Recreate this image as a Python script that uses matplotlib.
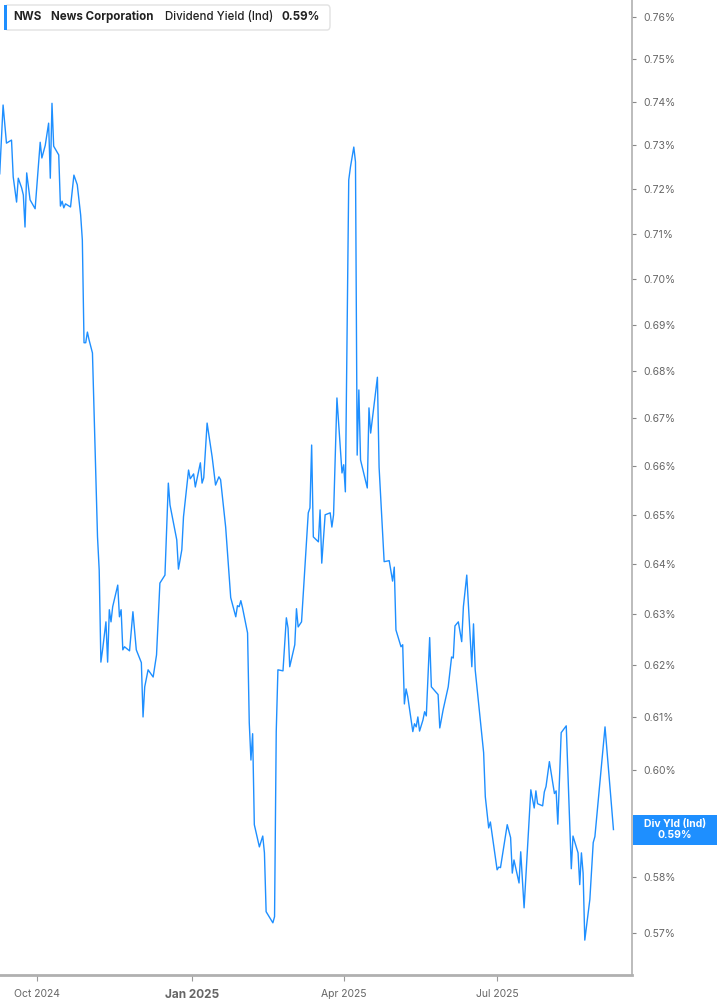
import pandas as pd
import matplotlib
matplotlib.use('Agg')
import matplotlib.pyplot as plt
from matplotlib.patches import FancyBboxPatch, Rectangle
from matplotlib.ticker import FixedLocator, FuncFormatter, NullLocator

plt.rcParams['font.family'] = ['Inter', 'DejaVu Sans']

# Dividend yield (%), one point per visible vertex
dates = [
    '2024-09-09', '2024-09-11', '2024-09-13', '2024-09-16', '2024-09-17', '2024-09-19',
    '2024-09-20', '2024-09-22', '2024-09-23', '2024-09-24', '2024-09-25', '2024-09-27',
    '2024-09-30', '2024-10-03', '2024-10-04', '2024-10-06', '2024-10-08', '2024-10-09',
    '2024-10-10', '2024-10-11', '2024-10-14', '2024-10-15', '2024-10-16', '2024-10-17',
    '2024-10-18', '2024-10-21', '2024-10-23', '2024-10-25', '2024-10-27', '2024-10-28',
    '2024-10-29', '2024-10-30', '2024-10-31', '2024-11-01', '2024-11-03', '2024-11-06',
    '2024-11-07', '2024-11-08', '2024-11-09', '2024-11-11', '2024-11-12', '2024-11-13',
    '2024-11-14', '2024-11-15', '2024-11-18', '2024-11-19', '2024-11-20', '2024-11-21',
    '2024-11-22', '2024-11-25', '2024-11-27', '2024-11-29', '2024-12-02', '2024-12-03',
    '2024-12-04', '2024-12-06', '2024-12-09', '2024-12-11', '2024-12-13', '2024-12-16',
    '2024-12-18', '2024-12-19', '2024-12-23', '2024-12-24', '2024-12-26', '2024-12-27',
    '2024-12-30', '2024-12-31', '2025-01-02', '2025-01-03', '2025-01-06', '2025-01-07',
    '2025-01-08', '2025-01-10', '2025-01-13', '2025-01-15', '2025-01-17', '2025-01-18',
    '2025-01-21', '2025-01-24', '2025-01-27', '2025-01-28', '2025-01-29', '2025-01-30',
    '2025-01-31', '2025-02-03', '2025-02-04', '2025-02-05', '2025-02-06', '2025-02-07',
    '2025-02-10', '2025-02-12', '2025-02-13', '2025-02-14', '2025-02-18', '2025-02-19',
    '2025-02-20', '2025-02-21', '2025-02-24', '2025-02-26', '2025-02-27', '2025-02-28',
    '2025-03-03', '2025-03-04', '2025-03-05', '2025-03-07', '2025-03-11', '2025-03-12',
    '2025-03-13', '2025-03-14', '2025-03-17', '2025-03-18', '2025-03-19', '2025-03-21',
    '2025-03-24', '2025-03-25', '2025-03-26', '2025-03-28', '2025-03-31', '2025-04-01',
    '2025-04-02', '2025-04-04', '2025-04-05', '2025-04-07', '2025-04-08', '2025-04-09',
    '2025-04-10', '2025-04-11', '2025-04-15', '2025-04-16', '2025-04-17', '2025-04-21',
    '2025-04-22', '2025-04-25', '2025-04-28', '2025-04-30', '2025-05-01', '2025-05-02',
    '2025-05-05', '2025-05-06', '2025-05-07', '2025-05-08', '2025-05-09', '2025-05-12',
    '2025-05-13', '2025-05-14', '2025-05-15', '2025-05-16', '2025-05-18', '2025-05-19',
    '2025-05-20', '2025-05-22', '2025-05-23', '2025-05-27', '2025-05-28', '2025-05-30',
    '2025-06-02', '2025-06-04', '2025-06-05', '2025-06-06', '2025-06-08', '2025-06-10',
    '2025-06-11', '2025-06-13', '2025-06-16', '2025-06-17', '2025-06-18', '2025-06-23',
    '2025-06-24', '2025-06-26', '2025-06-27', '2025-07-01', '2025-07-02', '2025-07-03',
    '2025-07-07', '2025-07-09', '2025-07-10', '2025-07-11', '2025-07-14', '2025-07-15',
    '2025-07-17', '2025-07-21', '2025-07-23', '2025-07-24', '2025-07-25', '2025-07-28',
    '2025-07-29', '2025-07-30', '2025-08-01', '2025-08-04', '2025-08-05', '2025-08-06',
    '2025-08-08', '2025-08-11', '2025-08-14', '2025-08-15', '2025-08-18', '2025-08-19',
    '2025-08-20', '2025-08-21', '2025-08-22', '2025-08-25', '2025-08-27', '2025-08-28',
    '2025-09-03', '2025-09-08',
]
yields = [
    0.7235, 0.7393, 0.7305, 0.7312, 0.7228, 0.7171,
    0.7225, 0.7203, 0.7187, 0.7115, 0.7237, 0.7176,
    0.7156, 0.7307, 0.7271, 0.7300, 0.7351, 0.7225,
    0.7397, 0.7298, 0.7278, 0.7162, 0.7173, 0.7158,
    0.7167, 0.7160, 0.7232, 0.7210, 0.7142, 0.7086,
    0.6861, 0.6861, 0.6884, 0.6867, 0.6839, 0.6455,
    0.6388, 0.6206, 0.6230, 0.6285, 0.6206, 0.6309,
    0.6285, 0.6315, 0.6358, 0.6295, 0.6309, 0.6230,
    0.6236, 0.6228, 0.6305, 0.6230, 0.6205, 0.6100,
    0.6158, 0.6191, 0.6177, 0.6220, 0.6362, 0.6378,
    0.6565, 0.6520, 0.6449, 0.6390, 0.6429, 0.6496,
    0.6592, 0.6574, 0.6584, 0.6557, 0.6607, 0.6565,
    0.6576, 0.6690, 0.6619, 0.6561, 0.6578, 0.6572,
    0.6475, 0.6333, 0.6295, 0.6317, 0.6315, 0.6327,
    0.6313, 0.6263, 0.6089, 0.6018, 0.6068, 0.5897,
    0.5856, 0.5876, 0.5845, 0.5738, 0.5718, 0.5729,
    0.6072, 0.6191, 0.6189, 0.6293, 0.6273, 0.6197,
    0.6240, 0.6311, 0.6275, 0.6285, 0.6504, 0.6514,
    0.6644, 0.6455, 0.6445, 0.6510, 0.6402, 0.6500,
    0.6504, 0.6475, 0.6500, 0.6743, 0.6586, 0.6603,
    0.6547, 0.7221, 0.7250, 0.7296, 0.7262, 0.6623,
    0.6760, 0.6613, 0.6555, 0.6722, 0.6669, 0.6787,
    0.6598, 0.6405, 0.6407, 0.6366, 0.6394, 0.6269,
    0.6236, 0.6240, 0.6125, 0.6154, 0.6139, 0.6072,
    0.6087, 0.6081, 0.6100, 0.6073, 0.6094, 0.6110,
    0.6102, 0.6254, 0.6158, 0.6143, 0.6079, 0.6114,
    0.6158, 0.6216, 0.6214, 0.6277, 0.6285, 0.6246,
    0.6315, 0.6378, 0.6197, 0.6281, 0.6191, 0.6032,
    0.5949, 0.5891, 0.5902, 0.5814, 0.5819, 0.5818,
    0.5897, 0.5873, 0.5808, 0.5832, 0.5790, 0.5847,
    0.5745, 0.5962, 0.5928, 0.5960, 0.5936, 0.5932,
    0.5958, 0.5968, 0.6015, 0.5955, 0.5960, 0.5898,
    0.6070, 0.6083, 0.5816, 0.5876, 0.5845, 0.5787,
    0.5845, 0.5808, 0.5687, 0.5760, 0.5864, 0.5875,
    0.6081, 0.5888,
]

ticker = 'NWS'
company = 'News Corporation'
metric = 'Dividend Yield (Ind)'
last_text = '0.59%'
badge_text = 'Div Yld (Ind)\n0.59%'

# 0.59% sits under the last-value badge, so it is not labelled
y_ticks = [0.57, 0.58, 0.60, 0.61, 0.62, 0.63, 0.64, 0.65, 0.66,
           0.67, 0.68, 0.69, 0.70, 0.71, 0.72, 0.73, 0.74, 0.75, 0.76]
x_ticks = ['2024-10-01', '2025-01-01', '2025-04-01', '2025-07-01']
x_labels = ['Oct 2024', 'Jan 2025', 'Apr 2025', 'Jul 2025']

blue = '#1e8fff'
W, H = 717, 1005

fig = plt.figure(figsize=(W / 100, H / 100), dpi=100)
ax = fig.add_axes([0, 30 / H, 632 / W, 975 / H])

ax.plot(pd.to_datetime(dates), yields, color=blue, lw=1.0)

ax.set_yscale('log')
ax.set_ylim(0.5625, 0.7641)
ax.set_xlim(pd.Timestamp('2024-09-09 04:00'), pd.Timestamp('2025-09-19'))

for s in ['left', 'top']:
    ax.spines[s].set_visible(False)
ax.spines['bottom'].set_color('#b0b0b0')
ax.spines['bottom'].set_linewidth(2)
ax.spines['right'].set_color('#b0b0b0')
ax.spines['right'].set_linewidth(1.2)

# y axis on the right, plain percent labels
ax.yaxis.tick_right()
ax.yaxis.set_major_locator(FixedLocator(y_ticks))
ax.yaxis.set_minor_locator(NullLocator())
ax.yaxis.set_major_formatter(FuncFormatter(lambda v, p: f'{v:.2f}%'))
ax.tick_params(axis='y', length=3, color='#888888', labelcolor='#666666',
               labelsize=7.5, pad=5)

ax.set_xticks(pd.to_datetime(x_ticks))
ax.set_xticklabels(x_labels)
ax.tick_params(axis='x', length=4, color='#999999', labelcolor='#666666',
               labelsize=7.5, pad=6)
for lab in ax.get_xticklabels():
    if lab.get_text().startswith('Jan'):
        lab.set_fontweight('bold')
        lab.set_fontsize(8.5)

# header box
fig.patches.append(FancyBboxPatch((5 / W, 1 - 30 / H), 325 / W, 25 / H,
                                  boxstyle='round,pad=0,rounding_size=0.004',
                                  transform=fig.transFigure, facecolor='white',
                                  edgecolor='#e2e2e2', lw=1))
fig.patches.append(Rectangle((4 / W, 1 - 30 / H), 3 / W, 25 / H,
                             transform=fig.transFigure, facecolor=blue,
                             edgecolor='none'))
ty = 1 - 17 / H
fig.text(13 / W, ty, ticker, fontsize=8.3, fontweight='bold', color='#222222', va='center')
fig.text(51 / W, ty, company, fontsize=8.3, fontweight='bold', color='#222222', va='center')
fig.text(165 / W, ty, metric, fontsize=8.3, fontweight='medium', color='#222222', va='center')
fig.text(282 / W, ty, last_text, fontsize=8.3, fontweight='bold', color='#222222', va='center')

# last value badge on the right axis
fig.canvas.draw()
yc = ax.transData.transform((ax.get_xlim()[0], yields[-1]))[1] / H
fig.patches.append(Rectangle((633 / W, yc - 15 / H), 84 / W, 30 / H,
                             transform=fig.transFigure, facecolor=blue,
                             edgecolor='none', zorder=5))
fig.text(675 / W, yc, badge_text, ha='center', va='center', fontsize=7.5,
         fontweight='bold', color='white', linespacing=1.1, zorder=6)

fig.savefig('out.png', dpi=100)
